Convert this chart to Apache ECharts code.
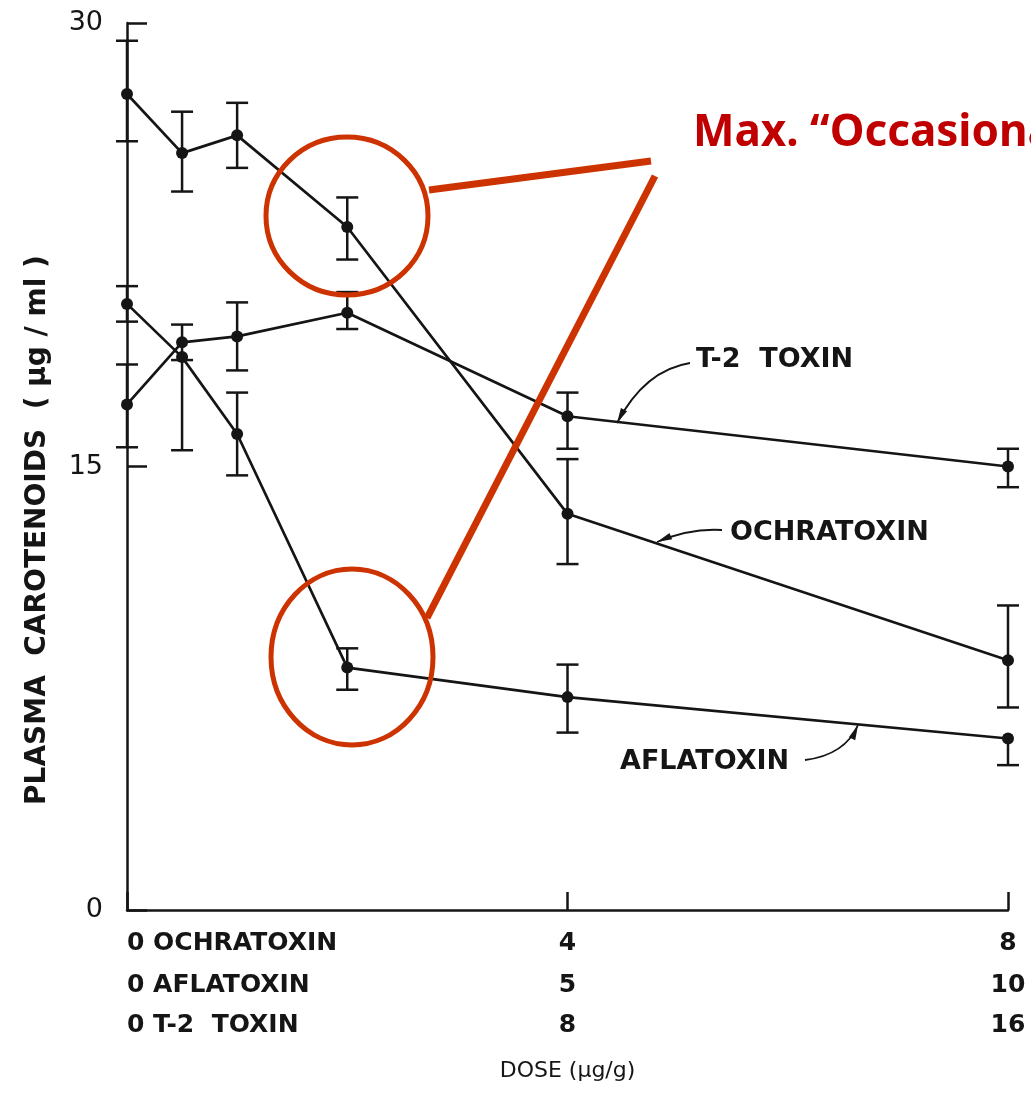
<!DOCTYPE html>
<html><head><meta charset="utf-8">
<script src="https://cdn.jsdelivr.net/npm/echarts@6/dist/echarts.min.js"></script>
<style>html,body{margin:0;padding:0;background:#fff}#c{width:1031px;height:1115px}</style>
</head><body><div id="c"></div>
<script>
// Doses in each toxin's own units (µg/g)
const ochraDose = [0, 0.5, 1, 2, 4, 8];
const aflaDose  = [0, 0.625, 1.25, 2.5, 5, 10];
const t2Dose    = [0, 1, 2, 4, 8, 16];
// Plasma carotenoids (µg/ml): mean, lower and upper error bar ends
const ochraMean = [27.6, 25.6, 26.2, 23.1, 13.4, 8.45];
const ochraLow  = [26.0, 24.3, 25.1, 22.0, 11.7, 6.85];
const ochraHigh = [29.4, 27.0, 27.3, 24.1, 15.25, 10.3];
const aflaMean  = [20.5, 18.7, 16.1, 8.2, 7.2, 5.8];
const aflaLow   = [19.9, 15.55, 14.7, 7.45, 6.0, 4.9];
const aflaHigh  = [21.1, 18.7, 17.5, 8.85, 8.3, 5.8];
const t2Mean    = [17.1, 19.2, 19.4, 20.2, 16.7, 15.0];
const t2Low     = [15.65, 18.6, 18.25, 19.65, 15.6, 14.3];
const t2High    = [18.45, 19.8, 20.55, 20.9, 17.5, 15.6];
const toxinNames = ['OCHRATOXIN', 'AFLATOXIN', 'T-2  TOXIN'];
const seriesLabels = ['OCHRATOXIN', 'AFLATOXIN', 'T-2  TOXIN'];
const yLabelText = 'PLASMA  CAROTENOIDS  ( µg / ml )';
const xNameText = 'DOSE (µg/g)';
const noteText = 'Max. “Occasional”';

const INK = '#151515';
const FONT = 'DejaVu Sans';

function mkX(name, max, interval, offset, main) {
  const ax = {
    type: 'value', position: 'bottom', min: 0, max: max, interval: interval, offset: offset,
    axisLine: { show: main, onZero: false, lineStyle: { color: INK, width: 2.5 } },
    axisTick: { show: main, inside: true, length: 18, lineStyle: { color: INK, width: 2.5 } },
    splitLine: { show: false },
    axisLabel: {
      show: true, margin: 21, color: INK, fontFamily: FONT, fontSize: 25, fontWeight: 'bold',
      showMinLabel: true, showMaxLabel: true, alignMinLabel: 'left',
      formatter: v => (v === 0 ? '0 ' + name : String(v))
    }
  };
  if (main) {
    ax.name = xNameText; ax.nameLocation = 'middle'; ax.nameGap = 150;
    ax.nameTextStyle = { fontFamily: FONT, fontSize: 22, color: INK };
  }
  return ax;
}

function errRender(params, api) {
  const x = api.value(0), lo = api.value(1), m = api.value(2), hi = api.value(3);
  const pm = api.coord([x, m]);
  const w = 11;
  const st = { stroke: INK, lineWidth: 2.5 };
  const ch = [];
  if (hi > m) {
    const ph = api.coord([x, hi]);
    ch.push({ type: 'line', shape: { x1: pm[0], y1: pm[1], x2: ph[0], y2: ph[1] }, style: st });
    ch.push({ type: 'line', shape: { x1: ph[0] - w, y1: ph[1], x2: ph[0] + w, y2: ph[1] }, style: st });
  }
  if (lo < m) {
    const pl = api.coord([x, lo]);
    ch.push({ type: 'line', shape: { x1: pm[0], y1: pm[1], x2: pl[0], y2: pl[1] }, style: st });
    ch.push({ type: 'line', shape: { x1: pl[0] - w, y1: pl[1], x2: pl[0] + w, y2: pl[1] }, style: st });
  }
  return { type: 'group', children: ch };
}

function lineSeries(name, idx, dose, mean) {
  return {
    name: name, type: 'line', xAxisIndex: idx, yAxisIndex: 0,
    data: dose.map((d, i) => [d, mean[i]]),
    symbol: 'circle', symbolSize: 12, showSymbol: true,
    lineStyle: { color: INK, width: 2.7 }, itemStyle: { color: INK },
    z: 3
  };
}
function errSeries(idx, dose, lo, mean, hi) {
  return {
    type: 'custom', xAxisIndex: idx, yAxisIndex: 0,
    data: dose.map((d, i) => [d, lo[i], mean[i], hi[i]]),
    encode: { x: 0, y: [1, 2, 3] },
    renderItem: errRender, z: 4
  };
}

function arrowHead(tip, from, len, half) {
  const dx = tip[0] - from[0], dy = tip[1] - from[1];
  const L = Math.hypot(dx, dy); const ux = dx / L, uy = dy / L;
  const bx = tip[0] - ux * len, by = tip[1] - uy * len;
  return [[tip[0], tip[1]], [bx - uy * half, by + ux * half], [bx + uy * half, by - ux * half]];
}
function callout(text, tx, ty, start, cp, end) {
  return [
    { type: 'text', x: tx, y: ty, style: { text: text, fontFamily: FONT, fontWeight: 'bold', fontSize: 27, fill: INK, align: 'left', verticalAlign: 'middle' }, z: 50 },
    { type: 'bezierCurve', shape: { x1: start[0], y1: start[1], x2: end[0], y2: end[1], cpx1: cp[0], cpy1: cp[1] }, style: { stroke: INK, lineWidth: 1.8, fill: null }, z: 50 },
    { type: 'polygon', shape: { points: arrowHead(end, cp, 15, 3.5) }, style: { fill: INK }, z: 50 }
  ];
}

const chart = echarts.init(document.getElementById('c'), null, { renderer: 'canvas' });
const RED = '#cc3300';
chart.setOption({
  animation: false,
  backgroundColor: '#fff',
  grid: { left: 127, right: 23, top: 23, bottom: 205, containLabel: false },
  xAxis: [
    mkX(toxinNames[0], 8, 4, 0, true),
    mkX(toxinNames[1], 10, 5, 42, false),
    mkX(toxinNames[2], 16, 8, 82, false)
  ],
  yAxis: [{
    type: 'value', min: 0, max: 30, interval: 15,
    axisLine: { show: true, lineStyle: { color: INK, width: 2.5 } },
    axisTick: { show: true, inside: true, length: 20, lineStyle: { color: INK, width: 2.5 } },
    splitLine: { show: false },
    axisLabel: { margin: 24, color: INK, fontFamily: FONT, fontSize: 27 }
  }],
  series: [
    lineSeries(seriesLabels[0], 0, ochraDose, ochraMean),
    errSeries(0, ochraDose, ochraLow, ochraMean, ochraHigh),
    lineSeries(seriesLabels[1], 1, aflaDose, aflaMean),
    errSeries(1, aflaDose, aflaLow, aflaMean, aflaHigh),
    lineSeries(seriesLabels[2], 2, t2Dose, t2Mean),
    errSeries(2, t2Dose, t2Low, t2Mean, t2High)
  ],
  graphic: [
    { type: 'text', x: 38, y: 530, rotation: Math.PI / 2,
      style: { text: yLabelText, fontFamily: FONT, fontWeight: 'bold', fontSize: 28, fill: INK, align: 'center', verticalAlign: 'middle' } },
    ...callout(seriesLabels[2], 696, 360, [690, 363], [645, 370], [617, 423]),
    ...callout(seriesLabels[0], 730, 533, [722, 530], [690, 528], [657, 542]),
    ...callout(seriesLabels[1], 620, 762, [805, 760], [845, 755], [858, 725]),
    { type: 'ellipse', shape: { cx: 347, cy: 216, rx: 81, ry: 79 }, style: { fill: null, stroke: RED, lineWidth: 5 }, z: 100 },
    { type: 'ellipse', shape: { cx: 352, cy: 657, rx: 81, ry: 88 }, style: { fill: null, stroke: RED, lineWidth: 5 }, z: 100 },
    { type: 'line', shape: { x1: 429, y1: 190, x2: 651, y2: 161 }, style: { stroke: RED, lineWidth: 7 }, z: 100 },
    { type: 'line', shape: { x1: 427, y1: 618, x2: 655, y2: 176 }, style: { stroke: RED, lineWidth: 7 }, z: 100 },
    { type: 'text', x: 693, y: 133, style: { text: noteText, fontFamily: 'Noto Sans', fontWeight: 'bold', fontSize: 44, fill: '#c00000', align: 'left', verticalAlign: 'middle' }, z: 100 }
  ]
});
</script></body></html>
